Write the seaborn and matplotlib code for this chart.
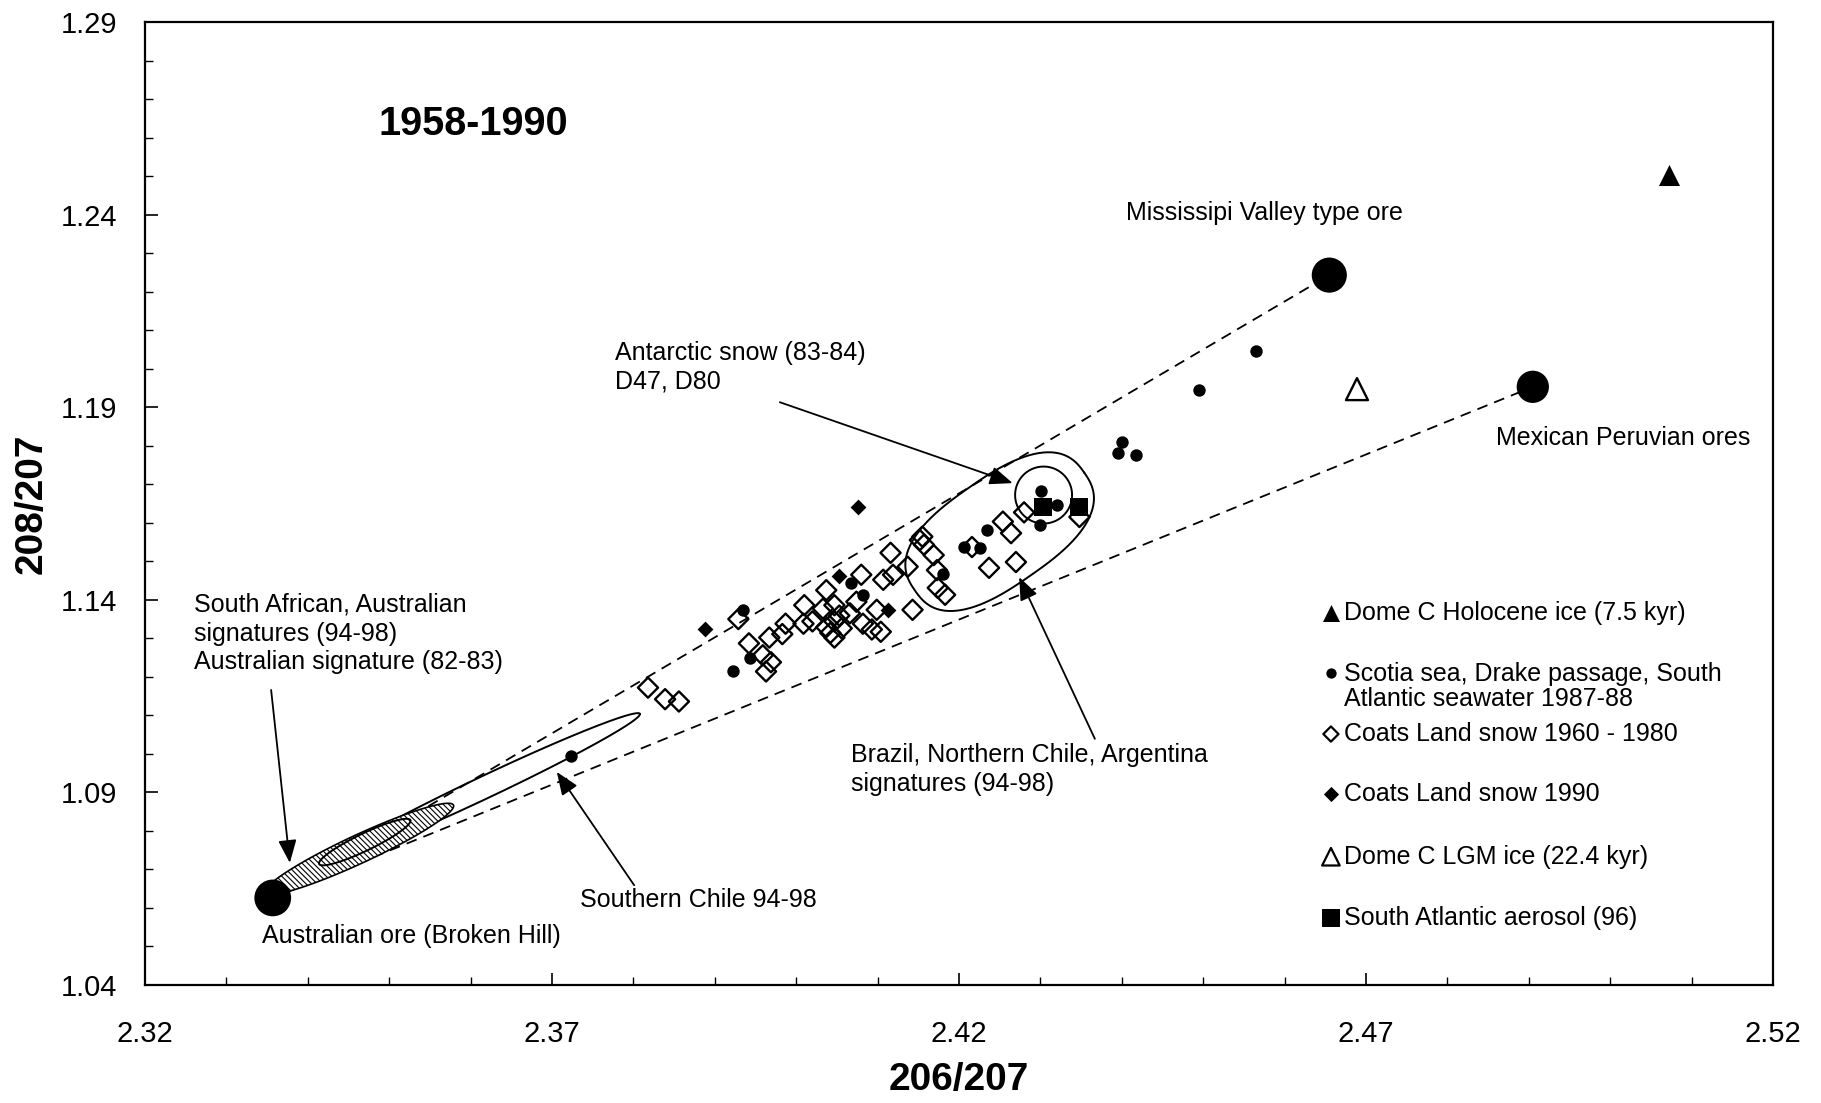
import numpy as np
import pandas as pd
import matplotlib
matplotlib.use('Agg')
import matplotlib.pyplot as plt
import seaborn as sns

# ---- data (206/207, 208/207) ----
scotia_x = [2.4565, 2.4495, 2.4400, 2.4395, 2.4417, 2.4301, 2.4321, 2.4300, 2.4234,
            2.4206, 2.4226, 2.4180, 2.4067, 2.4082, 2.3935, 2.3943, 2.3923, 2.3724]
scotia_y = [1.2047, 1.1944, 1.1811, 1.1781, 1.1775, 1.1682, 1.1645, 1.1594, 1.1582,
            1.1537, 1.1534, 1.1468, 1.1443, 1.1413, 1.1374, 1.1250, 1.1214, 1.0994]

coats60_x = [2.3818, 2.3839, 2.3856, 2.3929, 2.3942, 2.3959, 2.3969, 2.3963, 2.3967, 2.3983,
             2.3987, 2.4010, 2.4009, 2.4020, 2.4037, 2.4033, 2.4047, 2.4037, 2.4047, 2.4053,
             2.4042, 2.4047, 2.4056, 2.4066, 2.4074, 2.4080, 2.4082, 2.4093, 2.4104, 2.4099,
             2.4107, 2.4119, 2.4116, 2.4137, 2.4143, 2.4152, 2.4157, 2.4155, 2.4169, 2.4173,
             2.4174, 2.4183, 2.4216, 2.4237, 2.4254, 2.4264, 2.4270, 2.4280, 2.4348]
coats60_y = [1.1172, 1.1142, 1.1136, 1.1350, 1.1287, 1.1256, 1.1238, 1.1214, 1.1302, 1.1311,
             1.1338, 1.1386, 1.1338, 1.1344, 1.1425, 1.1377, 1.1386, 1.1329, 1.1344, 1.1359,
             1.1314, 1.1302, 1.1326, 1.1365, 1.1395, 1.1465, 1.1338, 1.1323, 1.1317, 1.1374,
             1.1452, 1.1465, 1.1522, 1.1486, 1.1374, 1.1555, 1.1543, 1.1564, 1.1516, 1.1477,
             1.1431, 1.1413, 1.1537, 1.1483, 1.1603, 1.1573, 1.1498, 1.1627, 1.1615]

coats90_x = [2.4076, 2.4053, 2.3888, 2.4113]
coats90_y = [1.1642, 1.1462, 1.1323, 1.1374]

aerosol_x = [2.4303, 2.4348]
aerosol_y = [1.1642, 1.1642]

holocene_x = [2.5072]
holocene_y = [1.2502]
lgm_x = [2.4689]
lgm_y = [1.1947]

# ore end-members
ore_names = ['Broken Hill', 'Mississippi Valley', 'Mexican Peruvian']
ore_x = [2.3357, 2.4655, 2.4905]
ore_y = [1.0626, 1.2243, 1.1953]
ore_size = [700, 640, 540]

# signature fields: centre, end of long axis, width ratio, squareness
fields = {
    'brazil':    ((2.4250, 1.1577), (2.4354, 1.1730), 0.52, 2.6),
    'antarctic': ((2.4304, 1.1672), (2.4339, 1.1672), 1.0, 2.0),
    'chile':     ((2.3618, 1.0914), (2.3808, 1.1104), 0.065, 2.0),
    'austr':     ((2.3463, 1.0753), (2.3579, 1.0867), 0.135, 2.0),
    'austr_in':  ((2.3470, 1.0771), (2.3526, 1.0828), 0.17, 2.0),
}

xticks = [2.32, 2.37, 2.42, 2.47, 2.52]
yticks = [1.04, 1.09, 1.14, 1.19, 1.24, 1.29]

legend_labels = ['Dome C Holocene ice (7.5 kyr)',
                 'Scotia sea, Drake passage, South\nAtlantic seawater 1987-88',
                 'Coats Land snow 1960 - 1980',
                 'Coats Land snow 1990',
                 'Dome C LGM ice (22.4 kyr)',
                 'South Atlantic aerosol (96)']

# ---- style ----
sns.set_theme(style='ticks')
plt.rcParams['font.family'] = ['Liberation Sans', 'DejaVu Sans']
plt.rcParams['text.color'] = 'black'
plt.rcParams['axes.labelcolor'] = 'black'
plt.rcParams['xtick.color'] = 'black'
plt.rcParams['ytick.color'] = 'black'
plt.rcParams['xtick.direction'] = 'in'
plt.rcParams['ytick.direction'] = 'in'
plt.rcParams['hatch.linewidth'] = 0.8

fig = plt.figure(figsize=(18.21, 11.03), dpi=100)
ax = fig.add_axes([0.0796, 0.1070, 0.894, 0.873])
ax.set_xlim(2.32, 2.52)
ax.set_ylim(1.04, 1.29)

# mixing lines from Broken Hill to the other two ores
for i in (1, 2):
    ax.plot([ore_x[0], ore_x[i]], [ore_y[0], ore_y[i]], color='black', lw=1.3,
            ls=(0, (6, 4)), zorder=2)


def field_outline(c, tip, ratio, n, npts=300):
    # build the outline in pixel space so the shape is right on screen
    c_px = ax.transData.transform(c)
    t_px = ax.transData.transform(tip)
    u = t_px - c_px
    v = np.array([-u[1], u[0]]) * ratio
    t = np.linspace(0, 2 * np.pi, npts)
    cs = np.sign(np.cos(t)) * np.abs(np.cos(t)) ** (2.0 / n)
    sn = np.sign(np.sin(t)) * np.abs(np.sin(t)) ** (2.0 / n)
    pts = c_px + np.outer(cs, u) + np.outer(sn, v)
    return ax.transData.inverted().transform(pts)


for key, (c, tip, ratio, n) in fields.items():
    pts = field_outline(c, tip, ratio, n)
    if key == 'austr':
        ax.fill(pts[:, 0], pts[:, 1], facecolor='white', edgecolor='black',
                hatch='\\\\\\\\\\\\', lw=1.2, zorder=3)
    else:
        ax.plot(pts[:, 0], pts[:, 1], color='black', lw=1.4, zorder=3)

# ---- data points ----
sns.scatterplot(x=coats60_x, y=coats60_y, marker='D', s=105, facecolor='none',
                edgecolor='black', linewidth=1.7, ax=ax, zorder=4)
sns.scatterplot(x=scotia_x, y=scotia_y, marker='o', s=80, color='black',
                edgecolor='black', linewidth=0, ax=ax, zorder=5)
sns.scatterplot(x=coats90_x, y=coats90_y, marker='D', s=65, color='black',
                edgecolor='black', linewidth=0, ax=ax, zorder=5)
sns.scatterplot(x=aerosol_x, y=aerosol_y, marker='s', s=160, color='black',
                edgecolor='black', linewidth=0, ax=ax, zorder=5)
sns.scatterplot(x=holocene_x, y=holocene_y, marker='^', s=230, color='black',
                edgecolor='black', linewidth=0, ax=ax, zorder=5)
sns.scatterplot(x=lgm_x, y=lgm_y, marker='^', s=250, facecolor='none',
                edgecolor='black', linewidth=1.7, ax=ax, zorder=5)
sns.scatterplot(x=ore_x, y=ore_y, marker='o', s=ore_size, color='black',
                edgecolor='black', linewidth=0, ax=ax, zorder=5)

# ---- annotations ----
fs = 18
ax.text(2.3487, 1.2635, '1958-1990', fontsize=28.5, fontweight='bold', va='center')
ax.text(2.4405, 1.2405, 'Mississipi Valley type ore', fontsize=fs, va='center')
ax.text(2.4860, 1.1820, 'Mexican Peruvian ores', fontsize=fs, va='center')
ax.text(2.3777, 1.2003, 'Antarctic snow (83-84)\nD47, D80', fontsize=fs, va='center',
        linespacing=1.25)
ax.text(2.3260, 1.1312, 'South African, Australian\nsignatures (94-98)\nAustralian signature (82-83)',
        fontsize=fs, va='center', linespacing=1.25)
ax.text(2.4067, 1.0959, 'Brazil, Northern Chile, Argentina\nsignatures (94-98)', fontsize=fs,
        va='center', linespacing=1.25)
ax.text(2.3734, 1.0620, 'Southern Chile 94-98', fontsize=fs, va='center')
ax.text(2.3344, 1.0527, 'Australian ore (Broken Hill)', fontsize=fs, va='center')

arrow_style = dict(arrowstyle='-|>,head_length=0.7,head_width=0.28', color='black',
                   lw=1.3, mutation_scale=20, shrinkA=0, shrinkB=0)
arrows = [((2.3980, 1.1913), (2.4266, 1.1703)),
          ((2.4367, 1.1039), (2.4274, 1.1459)),
          ((2.3801, 1.0659), (2.3706, 1.0953)),
          ((2.3355, 1.1166), (2.3378, 1.0717))]
for tail, head in arrows:
    ax.annotate('', xy=head, xytext=tail, arrowprops=arrow_style, zorder=6)

# ---- legend, drawn by hand to keep the original spacing ----
leg_marker_y = [0.386, 0.3237, 0.2606, 0.198, 0.1332, 0.0693]
leg_text_y = [0.386, 0.3098, 0.2606, 0.198, 0.1332, 0.0693]
leg_markers = [dict(marker='^', s=150, c='black', lw=0),
               dict(marker='o', s=55, c='black', lw=0),
               dict(marker='D', s=60, facecolors='none', edgecolors='black', lw=1.6),
               dict(marker='D', s=60, c='black', lw=0),
               dict(marker='^', s=160, facecolors='none', edgecolors='black', lw=1.6),
               dict(marker='s', s=170, c='black', lw=0)]
for my, ty, lab, mk in zip(leg_marker_y, leg_text_y, legend_labels, leg_markers):
    ax.scatter([0.7285], [my], transform=ax.transAxes, clip_on=False, zorder=6, **mk)
    ax.text(0.7365, ty, lab, transform=ax.transAxes, fontsize=fs, va='center',
            linespacing=1.05)

# ---- axes ----
ax.set_xticks(xticks)
ax.set_yticks(yticks)
ax.set_xticks(np.arange(2.33, 2.52, 0.01), minor=True)
ax.set_yticks(np.arange(1.05, 1.29, 0.01), minor=True)
ax.set_xticklabels([f'{v:.2f}' for v in xticks])
ax.set_yticklabels([f'{v:.2f}' for v in yticks])
ax.tick_params(which='major', length=9, width=1.2, colors='black', labelsize=21)
ax.tick_params(axis='x', which='major', pad=25)
ax.tick_params(axis='y', which='major', pad=20)
ax.tick_params(which='minor', length=6, width=1.0, colors='black')
for sp in ax.spines.values():
    sp.set_visible(True)
    sp.set_color('black')
    sp.set_linewidth(1.6)

ax.set_xlabel('206/207', fontsize=28, fontweight='bold', labelpad=10)
ax.set_ylabel('208/207', fontsize=28, fontweight='bold', labelpad=8)

fig.savefig('out.png', dpi=100, facecolor='white')
